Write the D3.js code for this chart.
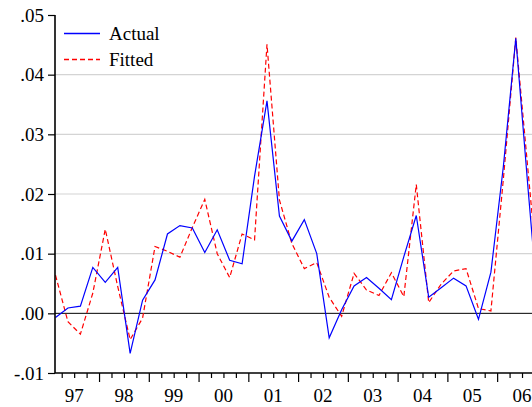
<!DOCTYPE html>
<html>
<head>
<meta charset="utf-8">
<script src="https://cdn.jsdelivr.net/npm/d3@7"></script>
<style>
  body { margin: 0; background: #fff; }
  svg { display: block; }
  text { font-family: "Liberation Serif", "Times New Roman", serif; }
</style>
</head>
<body>
<div id="chart"></div>
<script>
// quarterly, 1997Q1 .. 2006Q4 (last points run past the right edge)
var years = ["97", "98", "99", "00", "01", "02", "03", "04", "05", "06"];

var actual = [
  -0.0007, 0.0009, 0.0012, 0.0077,
   0.0052, 0.0077, -0.0067, 0.0022,
   0.0056, 0.0133, 0.0147, 0.0143,
   0.0102, 0.0140, 0.0089, 0.0083,
   0.0230, 0.0356, 0.0163, 0.0121,
   0.0157, 0.0100, -0.0041, 0.0006,
   0.0046, 0.0060, 0.0042, 0.0023,
   0.0095, 0.0164, 0.0027, 0.0043,
   0.0059, 0.0046, -0.0010, 0.0069,
   0.0246, 0.0461, 0.0205, -0.0040
];

var fitted = [
   0.0064, -0.0014, -0.0035, 0.0034,
   0.0141, 0.0045, -0.0044, -0.0008,
   0.0112, 0.0104, 0.0094, 0.0144,
   0.0191, 0.0100, 0.0060, 0.0133,
   0.0123, 0.0451, 0.0190, 0.0117,
   0.0075, 0.0085, 0.0027, -0.0005,
   0.0067, 0.0039, 0.0030, 0.0068,
   0.0028, 0.0216, 0.0018, 0.0049,
   0.0071, 0.0075, 0.0008, 0.0004,
   0.0225, 0.0462, 0.0235, 0.0010
];

var yTicks = [-0.01, 0.00, 0.01, 0.02, 0.03, 0.04, 0.05];

var width = 532, height = 407;
var plotLeft = 55, plotTop = 15, plotBottom = 373;

var svg = d3.select("#chart").append("svg")
    .attr("width", width)
    .attr("height", height);

var x = d3.scaleLinear()
    .domain([0, 37])
    .range([55.5, 515.8]);

var y = d3.scaleLinear()
    .domain([-0.01, 0.05])
    .range([plotBottom, plotTop]);

var fmt = function(d) {
    var s = Math.abs(d).toFixed(2).slice(1);
    return (d < 0 ? "-" : "") + s;
};

// grid lines
svg.append("g").selectAll("line")
    .data(yTicks.filter(function(d) { return d > 0.001 && d < 0.049; }))
    .enter().append("line")
    .attr("x1", plotLeft).attr("x2", width)
    .attr("y1", function(d) { return y(d); })
    .attr("y2", function(d) { return y(d); })
    .style("stroke", "#d4d4d4")
    .style("stroke-width", 1.2);

// zero line
svg.append("line")
    .attr("x1", plotLeft).attr("x2", width)
    .attr("y1", y(0)).attr("y2", y(0))
    .style("stroke", "#000")
    .style("stroke-width", 1);

// series
var line = function(vals) {
    return d3.line()
        .x(function(d, i) { return x(i); })
        .y(function(d) { return y(d); })(vals);
};

svg.append("path")
    .attr("d", line(fitted))
    .attr("fill", "none")
    .style("stroke", "#ff0000")
    .style("stroke-width", 1.2)
    .style("stroke-dasharray", "5,3");

svg.append("path")
    .attr("d", line(actual))
    .attr("fill", "none")
    .style("stroke", "#0000ff")
    .style("stroke-width", 1.2);

// left axis
var yAxis = svg.append("g")
    .attr("transform", "translate(" + plotLeft + ",0)")
    .call(d3.axisLeft(y).tickValues(yTicks).tickFormat(fmt).tickSize(7).tickSizeOuter(0).tickPadding(4));

// bottom axis: quarter ticks, longer ones at year starts
var qTicks = d3.range(1, 41).map(function(i) { return i - 0.5; });
var xAxisMinor = svg.append("g")
    .attr("transform", "translate(0," + plotBottom + ")")
    .call(d3.axisBottom(x).tickValues(qTicks.filter(function(d) { return (d + 0.5) % 4 != 0; }))
          .tickFormat("").tickSize(5).tickSizeOuter(0));
var xAxisMajor = svg.append("g")
    .attr("transform", "translate(0," + plotBottom + ")")
    .call(d3.axisBottom(x).tickValues(qTicks.filter(function(d) { return (d + 0.5) % 4 == 0; }))
          .tickFormat("").tickSize(9).tickSizeOuter(0));
xAxisMajor.select(".domain").remove();
xAxisMinor.select(".domain")
    .attr("d", "M" + plotLeft + ",0H" + width);

svg.append("g").selectAll("text")
    .data(years)
    .enter().append("text")
    .attr("x", function(d, i) { return x(i * 4 + 1.5); })
    .attr("y", 401.5)
    .attr("text-anchor", "middle")
    .style("font-size", "19px")
    .style("fill", "#000")
    .text(function(d) { return d; });

svg.selectAll(".domain").style("stroke", "#000").style("stroke-width", 1.6);
svg.selectAll(".tick line").style("stroke", "#000").style("stroke-width", 1.2);
yAxis.selectAll("text")
    .style("font-size", "19px")
    .style("font-family", "Liberation Serif, Times New Roman, serif")
    .style("fill", "#000");
yAxis.select(".domain").attr("d", "M0," + plotTop + "V" + plotBottom);

// legend
var legendNames = ["Actual", "Fitted"];
var legendColors = ["#0000ff", "#ff0000"];
var lg = svg.append("g").selectAll("g")
    .data(legendNames)
    .enter().append("g")
    .attr("transform", function(d, i) { return "translate(64," + (33.5 + i * 26) + ")"; });
lg.append("path")
    .attr("d", "M0,0H36")
    .attr("fill", "none")
    .attr("stroke", function(d, i) { return legendColors[i]; })
    .attr("stroke-width", 1.3)
    .attr("stroke-dasharray", function(d, i) { return i == 1 ? "5,3" : null; });
lg.append("text")
    .attr("x", 45)
    .attr("y", 6.5)
    .style("font-size", "19px")
    .style("fill", "#000")
    .text(function(d) { return d; });
</script>
</body>
</html>
